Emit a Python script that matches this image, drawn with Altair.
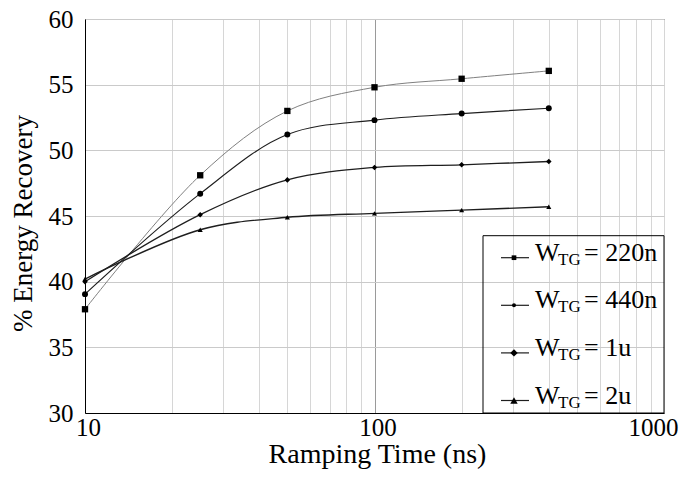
import altair as alt
import pandas as pd

# ---- data ----
ramp_ns = [10, 25, 50, 100, 200, 400]
series_names = ["220n", "440n", "1u", "2u"]
y_220n = [37.9, 48.1, 53.0, 54.8, 55.45, 56.05]
y_440n = [39.05, 46.7, 51.2, 52.3, 52.8, 53.2]
y_1u = [40.0, 45.1, 47.75, 48.7, 48.9, 49.15]
y_2u = [40.2, 43.95, 44.9, 45.2, 45.45, 45.7]

x_label_values = [10, 100, 1000]
x_grid_values = [10, 20, 30, 40, 50, 60, 70, 80, 90,
                 100, 200, 300, 400, 500, 600, 700, 800, 900, 1000]
y_ticks = [30, 35, 40, 45, 50, 55, 60]

values_by_series = {"220n": y_220n, "440n": y_440n, "1u": y_1u, "2u": y_2u}
rows = []
for s in series_names:
    for x, y in zip(ramp_ns, values_by_series[s]):
        rows.append({"series": s, "ramp": x, "pct": y})
df = pd.DataFrame(rows)
legend_df = pd.DataFrame({"series": series_names, "row": list(range(len(series_names)))})

FONT = "Liberation Serif, Times New Roman, DejaVu Serif, serif"
W, H = 579, 394

shape_scale = alt.Scale(domain=series_names,
                        range=["square", "circle", "diamond", "triangle-up"])
size_scale = alt.Scale(domain=series_names, range=[40, 26, 100, 95])
color_scale = alt.Scale(domain=series_names,
                        range=["#808080", "#1e1e1e", "#1e1e1e", "#1e1e1e"])
width_scale = alt.Scale(domain=series_names, range=[1.0, 1.4, 1.4, 1.4])

label_test = " || ".join(f"datum.value == {v}" for v in x_label_values)

x_enc = alt.X(
    "ramp:Q",
    scale=alt.Scale(type="log", domain=[10, 1000]),
    axis=alt.Axis(
        values=x_grid_values,
        labelExpr=f"({label_test}) ? format(datum.value, 'd') : ''",
        labelOverlap=False,
        labelFlush=False,
        tickSize=0,
        labelPadding=2,
        labelFontSize=25,
        labelFont=FONT,
        labelColor="black",
        labelOffset={"condition": {"test": "datum.value == 1000", "value": -11}, "value": 3},
        gridColor={"condition": {"test": "datum.value == 100", "value": "#9a9a9a"}, "value": "#d6d6d6"},
        domainColor="black",
        title="Ramping Time (ns)",
        titleFont=FONT,
        titleFontSize=28,
        titleFontWeight="normal",
        titleColor="black",
        titleX=292,
        titleY=49,
        titleAlign="center",
        titleBaseline="alphabetic",
    ),
)
y_enc = alt.Y(
    "pct:Q",
    scale=alt.Scale(domain=[30, 60], nice=False, zero=False),
    axis=alt.Axis(
        values=y_ticks,
        tickSize=0,
        labelPadding=12,
        labelFontSize=25,
        labelFont=FONT,
        labelColor="black",
        gridColor="#cacaca",
        domainColor="black",
        title="% Energy Recovery",
        titleFont=FONT,
        titleFontSize=27,
        titleFontWeight="normal",
        titleColor="black",
        titleAngle=270,
        titleX=-54,
        titleY=204,
        titleAlign="center",
        titleBaseline="alphabetic",
    ),
)

lines = alt.Chart(df).mark_line(interpolate="catmull-rom").encode(
    x=x_enc,
    y=y_enc,
    color=alt.Color("series:N", scale=color_scale, legend=None),
    strokeWidth=alt.StrokeWidth("series:N", scale=width_scale, legend=None),
    detail="series:N",
)
points = alt.Chart(df).mark_point(filled=True, opacity=1, color="black").encode(
    x="ramp:Q",
    y="pct:Q",
    shape=alt.Shape("series:N", scale=shape_scale, legend=None),
    size=alt.Size("series:N", scale=size_scale, legend=None),
)

# ---- custom legend (pixel layout inside plot area) ----
leg_base = alt.Chart(legend_df).transform_calculate(
    ly="238.7 + datum.row * 47.6",
    ty="238.7 + datum.row * 47.6 + 3",
    sy="238.7 + datum.row * 47.6 + 7",
    lsz="datum.row == 0 ? 22 : datum.row == 1 ? 16 : 55",
    eq="'= ' + datum.series",
)
leg_box = alt.Chart(pd.DataFrame({"k": [0]})).mark_rect(
    fillOpacity=0, stroke="black", strokeWidth=1
).encode(x=alt.value(398), x2=alt.value(W), y=alt.value(216.7), y2=alt.value(H))
leg_lines = leg_base.mark_rule(color="#1e1e1e", strokeWidth=1.2).encode(
    x=alt.value(416), x2=alt.value(444), y=alt.Y("ly:Q", scale=None)
)
leg_pts = leg_base.mark_point(filled=True, opacity=1, color="black").encode(
    x=alt.value(429), y=alt.Y("ly:Q", scale=None),
    shape=alt.Shape("series:N", scale=shape_scale, legend=None),
    size=alt.Size("lsz:Q", scale=None),
)
leg_w = leg_base.mark_text(align="left", baseline="alphabetic", font=FONT,
                           fontSize=26, color="black").encode(
    x=alt.value(450), y=alt.Y("ty:Q", scale=None), text=alt.value("W"))
leg_sub = leg_base.mark_text(align="left", baseline="alphabetic", font=FONT,
                             fontSize=17, color="black").encode(
    x=alt.value(473), y=alt.Y("sy:Q", scale=None), text=alt.value("TG"))
leg_eq = leg_base.mark_text(align="left", baseline="alphabetic", font=FONT,
                            fontSize=26, color="black").encode(
    x=alt.value(499), y=alt.Y("ty:Q", scale=None), text="eq:N")

chart = alt.layer(
    lines, points, leg_box, leg_lines, leg_pts, leg_w, leg_sub, leg_eq
).properties(
    width=W, height=H,
    padding={"left": 77, "top": 11, "right": 20, "bottom": 59},
    autosize=alt.AutoSizeParams(type="none"),
    background="white",
).configure(font=FONT).configure_view(stroke="#3a3a3a", strokeWidth=1)

chart.save("out.html", embed_options={"renderer": "svg", "actions": False})
